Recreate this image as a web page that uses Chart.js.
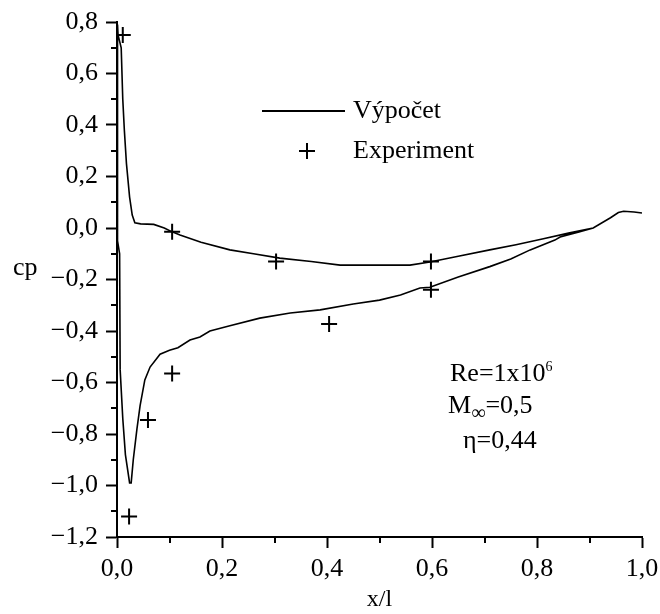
<!DOCTYPE html>
<html>
<head>
<meta charset="utf-8">
<script src="https://cdn.jsdelivr.net/npm/chart.js@4"></script>
<style>
  body { margin: 0; background: #fff; }
  #wrap { position: relative; width: 660px; height: 614px; font-family: "Liberation Serif", "Times New Roman", serif; color: #000; }
  .lbl { position: absolute; font-size: 26px; line-height: 26px; white-space: nowrap; }
  .lbl sup { font-size: 14px; vertical-align: 10px; line-height: 0; }
  .lbl sub { font-size: 20px; vertical-align: -6px; line-height: 0; }
  .bar { position: absolute; background: #000; }
</style>
</head>
<body>
<div id="wrap">
  <canvas id="cpChart" width="660" height="614"></canvas>
  <div class="lbl" style="left:13px;top:254px">cp</div>

  <!-- legend -->
  <div class="bar" style="left:262px;top:110px;width:83px;height:2px"></div>
  <div class="lbl" style="left:353px;top:97px">Výpočet</div>
  <div class="bar" style="left:299px;top:150px;width:16px;height:2px"></div>
  <div class="bar" style="left:306px;top:143px;width:2px;height:16px"></div>
  <div class="lbl" style="left:353px;top:137px">Experiment</div>

  <!-- flow conditions -->
  <div class="lbl" style="left:450px;top:360px">Re=1x10<sup>6</sup></div>
  <div class="lbl" style="left:448px;top:392px">M<sub>∞</sub>=0,5</div>
  <div class="lbl" style="left:463px;top:427px">η=0,44</div>
</div>
<script>
// computed cp, upper surface (trailing edge -> leading edge)
const upperX = [1.0, 0.985, 0.965, 0.955, 0.94, 0.907, 0.86, 0.81, 0.76, 0.71, 0.65, 0.596, 0.558, 0.425, 0.37, 0.31, 0.26, 0.215, 0.16, 0.12, 0.105, 0.09, 0.07, 0.045, 0.034, 0.029, 0.024, 0.018, 0.014, 0.011, 0.008, 0.002, 0.001];
const upperY = [0.058, 0.062, 0.065, 0.06, 0.04, 0.0, -0.02, -0.043, -0.065, -0.085, -0.11, -0.132, -0.144, -0.144, -0.13, -0.117, -0.1, -0.085, -0.055, -0.027, -0.015, 0.0, 0.014, 0.016, 0.02, 0.05, 0.12, 0.25, 0.38, 0.5, 0.7, 0.75, 0.79];

// computed cp, lower surface (leading edge -> trailing edge)
const lowerX = [0.001, 0.001, 0.005, 0.006, 0.011, 0.016, 0.024, 0.027, 0.031, 0.038, 0.044, 0.053, 0.063, 0.082, 0.1, 0.116, 0.139, 0.158, 0.177, 0.215, 0.272, 0.33, 0.387, 0.45, 0.5, 0.54, 0.577, 0.596, 0.65, 0.71, 0.75, 0.787, 0.834, 0.844, 0.88, 0.907, 0.94, 0.955, 0.965, 0.985, 1.0];
const lowerY = [0.79, -0.05, -0.1, -0.55, -0.74, -0.88, -0.99, -0.99, -0.9, -0.78, -0.69, -0.59, -0.54, -0.49, -0.475, -0.465, -0.435, -0.423, -0.40, -0.38, -0.35, -0.33, -0.318, -0.295, -0.28, -0.26, -0.233, -0.23, -0.19, -0.15, -0.12, -0.085, -0.047, -0.035, -0.015, 0.0, 0.04, 0.06, 0.065, 0.062, 0.058];

// measured points
const expX = [0.011, 0.105, 0.303, 0.598, 0.598, 0.404, 0.105, 0.059, 0.023];
const expY = [0.75, -0.015, -0.13, -0.13, -0.24, -0.373, -0.565, -0.746, -1.12];

// axis limits
const xMin = 0, xMax = 1.0, xStep = 0.2;
const yMin = -1.2, yMax = 0.8, yStep = 0.2;

function toPoints(xs, ys) {
  return xs.map((x, i) => ({ x: x, y: ys[i] }));
}

const calcPoints = toPoints(upperX, upperY).concat(toPoints(lowerX, lowerY));
const expPoints = toPoints(expX, expY);

// czech decimal comma + real minus sign
function fmt(v) {
  if (Math.abs(v) < 1e-9) v = 0;
  return v.toFixed(1).replace('.', ',').replace('-', '\u2212');
}

// small ticks halfway between the labelled ones
const minorTicks = {
  id: 'minorTicks',
  afterDraw(chart) {
    const ctx = chart.ctx;
    const xs = chart.scales.x, ys = chart.scales.y;
    ctx.save();
    ctx.strokeStyle = '#000';
    ctx.lineWidth = 2;
    for (let i = 0; i < xs.ticks.length - 1; i++) {
      const px = Math.round(xs.getPixelForValue((xs.ticks[i].value + xs.ticks[i + 1].value) / 2));
      ctx.beginPath(); ctx.moveTo(px, xs.top); ctx.lineTo(px, xs.top + 6); ctx.stroke();
    }
    for (let i = 0; i < ys.ticks.length - 1; i++) {
      const py = Math.round(ys.getPixelForValue((ys.ticks[i].value + ys.ticks[i + 1].value) / 2));
      ctx.beginPath(); ctx.moveTo(ys.right - 6, py); ctx.lineTo(ys.right, py); ctx.stroke();
    }
    ctx.restore();
  }
};

const tickFont = { family: '"Liberation Serif", "Times New Roman", serif', size: 26 };

new Chart(document.getElementById('cpChart').getContext('2d'), {
  type: 'scatter',
  data: {
    datasets: [
      {
        label: 'Výpočet',
        data: calcPoints,
        showLine: true,
        borderColor: '#000',
        borderWidth: 1.6,
        pointRadius: 0,
        tension: 0
      },
      {
        label: 'Experiment',
        data: expPoints,
        showLine: false,
        pointStyle: 'cross',
        pointRadius: 8,
        borderColor: '#000',
        backgroundColor: '#000',
        pointBorderWidth: 2
      }
    ]
  },
  options: {
    responsive: false,
    animation: false,
    layout: { padding: { top: 22, right: 0, left: 0, bottom: 0 } },
    plugins: { legend: { display: false }, tooltip: { enabled: false } },
    scales: {
      x: {
        type: 'linear',
        min: xMin, max: xMax,
        ticks: { stepSize: xStep, color: '#000', font: tickFont, padding: 6, callback: fmt, maxRotation: 0 },
        grid: { drawOnChartArea: false, tickLength: 11, tickWidth: 2, tickColor: '#000' },
        border: { display: true, color: '#000', width: 2 },
        title: { display: true, text: 'x/l', color: '#000', font: { family: tickFont.family, size: 24 }, padding: { top: 0, bottom: 0 } },
        afterFit(scale) { scale.height = 77; scale.paddingRight = 18; scale.paddingLeft = 0; }
      },
      y: {
        type: 'linear',
        min: yMin, max: yMax,
        ticks: { stepSize: yStep, color: '#000', font: tickFont, padding: 8, callback: fmt },
        grid: { drawOnChartArea: false, tickLength: 11, tickWidth: 2, tickColor: '#000' },
        border: { display: true, color: '#000', width: 2 },
        afterFit(scale) { scale.width = 117; scale.paddingTop = 0; scale.paddingBottom = 0; }
      }
    }
  },
  plugins: [minorTicks]
});
</script>
</body>
</html>
